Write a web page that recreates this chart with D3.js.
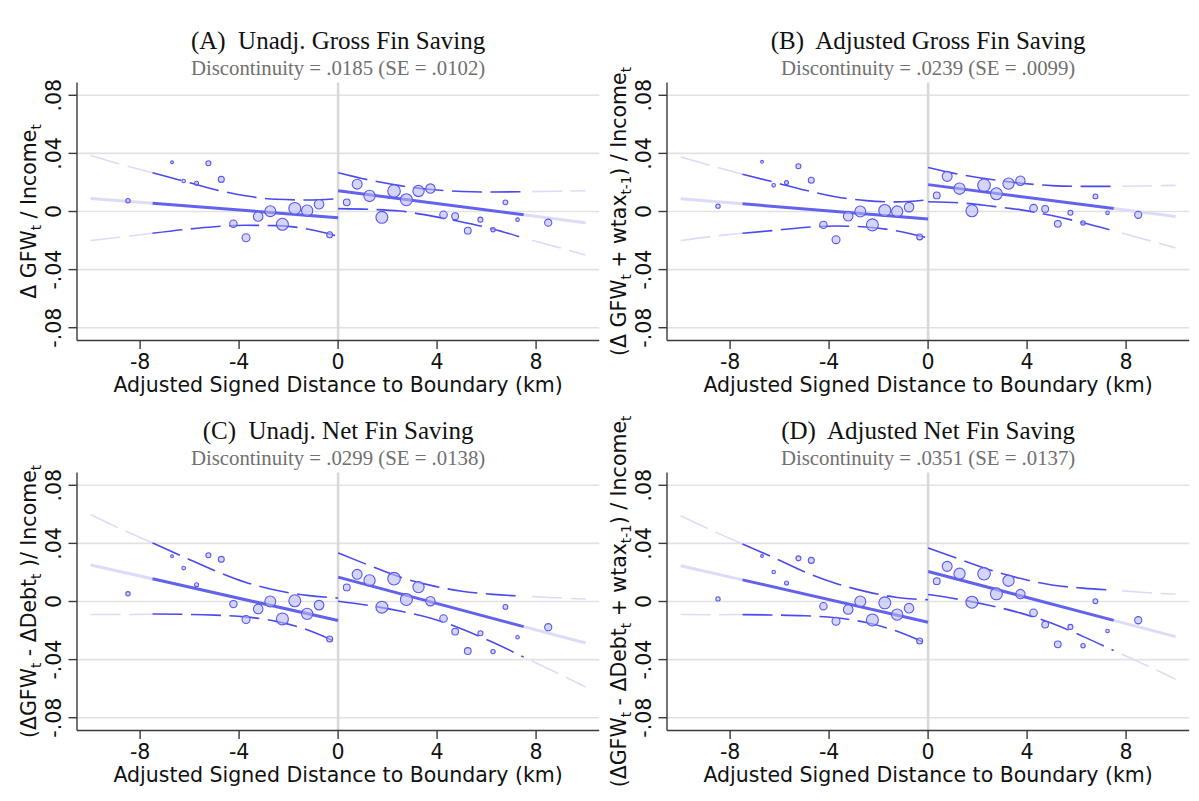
<!DOCTYPE html>
<html>
<head>
<meta charset="utf-8">
<script src="https://cdn.jsdelivr.net/npm/d3@7"></script>
<style>
  body { margin: 0; background: #fff; }
  svg { display: block; }
  text { white-space: pre; }
</style>
</head>
<body>
<svg id="chart" width="1199" height="801"></svg>
<script>
// ---------------- DATA ----------------
const panelTitles = [
  "(A)  Unadj. Gross Fin Saving",
  "(B)  Adjusted Gross Fin Saving",
  "(C)  Unadj. Net Fin Saving",
  "(D)  Adjusted Net Fin Saving"
];
const panelSubtitles = [
  "Discontinuity = .0185 (SE = .0102)",
  "Discontinuity = .0239 (SE = .0099)",
  "Discontinuity = .0299 (SE = .0138)",
  "Discontinuity = .0351 (SE = .0137)"
];
// y-axis titles: [text, isSubscript]
const yTitleA = [["Δ GFW", 0], ["t", 1], [" / Income", 0], ["t", 1]];
const yTitleB = [["(Δ GFW", 0], ["t", 1], [" + wtax", 0], ["t-1", 1], [") / Income", 0], ["t", 1]];
const yTitleC = [["(ΔGFW", 0], ["t", 1], [" - ΔDebt", 0], ["t", 1], [" )/ Income", 0], ["t", 1]];
const yTitleD = [["(ΔGFW", 0], ["t", 1], [" - ΔDebt", 0], ["t", 1], [" + wtax", 0], ["t-1", 1], [") / Income", 0], ["t", 1]];
const xTitle = "Adjusted Signed Distance to Boundary (km)";

const xTicks = [-8, -4, 0, 4, 8];
const xTickLabels = ["-8", "-4", "0", "4", "8"];
const yTicks = [-0.08, -0.04, 0, 0.04, 0.08];
const yTickLabels = ["-.08", "-.04", "0", ".04", ".08"];

// bin positions (km) and relative bin weights
const binXLeft  = [-8.49, -6.71, -6.24, -5.72, -5.24, -4.72, -4.23, -3.72, -3.23, -2.74, -2.25, -1.75, -1.25, -0.77, -0.34];
const binXRight = [0.35, 0.77, 1.27, 1.77, 2.26, 2.76, 3.25, 3.73, 4.26, 4.73, 5.24, 5.75, 6.26, 6.76, 7.25, 8.49];
const binWeightLeft  = [4.8, 2.0, 3.2, 4.0, 6.3, 9, 13.7, 16, 23, 30, 36, 36, 32, 23, 9];
const binWeightRight = [11.6, 25, 32, 36, 40, 36, 32, 22, 14.4, 11.6, 11.6, 6.3, 4.8, 5.8, 3.2, 13];

// bin means
const meanLeftA  = [0.0074, 0.0339, 0.0210, 0.0195, 0.0332, 0.0221, -0.0084, -0.0181, -0.0034, 0.0002, -0.0088, 0.0021, 0.0006, 0.0050, -0.0160];
const meanRightA = [0.0063, 0.0188, 0.0107, -0.0040, 0.0141, 0.0081, 0.0141, 0.0158, -0.0023, -0.0032, -0.0132, -0.0056, -0.0125, 0.0063, -0.0056, -0.0077];
const meanLeftB  = [0.0037, 0.0342, 0.0180, 0.0199, 0.0312, 0.0215, -0.0092, -0.0194, -0.0032, 0.0000, -0.0092, 0.0007, 0.0000, 0.0030, -0.0175];
const meanRightB = [0.0111, 0.0242, 0.0157, 0.0005, 0.0180, 0.0122, 0.0192, 0.0212, 0.0023, 0.0018, -0.0085, -0.0009, -0.0079, 0.0104, -0.0009, -0.0023];
const meanLeftC  = [0.0053, 0.0311, 0.0230, 0.0115, 0.0318, 0.0290, -0.0018, -0.0124, -0.0051, 0.0000, -0.0120, 0.0005, -0.0085, -0.0025, -0.0258];
const meanRightC = [0.0097, 0.0187, 0.0145, -0.0039, 0.0157, 0.0014, 0.0099, 0.0002, -0.0117, -0.0207, -0.0341, -0.0219, -0.0345, -0.0037, -0.0246, -0.0177];
const meanLeftD  = [0.0018, 0.0313, 0.0203, 0.0127, 0.0297, 0.0283, -0.0032, -0.0136, -0.0055, 0.0000, -0.0127, -0.0009, -0.0090, -0.0046, -0.0272];
const meanRightD = [0.0140, 0.0242, 0.0191, -0.0005, 0.0191, 0.0053, 0.0143, 0.0051, -0.0078, -0.0159, -0.0295, -0.0175, -0.0304, 0.0002, -0.0203, -0.0129];

// linear fits (read at x positions)
const fitXLeft  = [-10, -7.5, 0];
const fitXRight = [0, 7.5, 10];
const fitLeftA  = [0.0090, 0.0057, -0.0043];
const fitRightA = [0.0143, -0.0023, -0.0078];
const fitLeftB  = [0.0088, 0.0053, -0.0051];
const fitRightB = [0.0185, 0.0020, -0.0035];
const fitLeftC  = [0.0251, 0.0156, -0.0131];
const fitRightC = [0.0168, -0.0173, -0.0286];
const fitLeftD  = [0.0246, 0.0149, -0.0143];
const fitRightD = [0.0207, -0.0130, -0.0242];

// confidence bands (read at x positions)
const ciXLeft  = [-10, -8.75, -7.5, -6.25, -5, -3.75, -2.5, -1.25, 0];
const ciXRight = [0, 1.25, 2.5, 3.75, 5, 6.25, 7.5, 8.75, 10];
const ciHiLeftA  = [0.0385, 0.0323, 0.0267, 0.0210, 0.0152, 0.0108, 0.0084, 0.0079, 0.0088];
const ciLoLeftA  = [-0.0200, -0.0175, -0.0150, -0.0125, -0.0105, -0.0095, -0.0097, -0.0120, -0.0170];
const ciHiRightA = [0.0267, 0.0217, 0.0178, 0.0151, 0.0138, 0.0134, 0.0136, 0.0139, 0.0143];
const ciLoRightA = [0.0020, 0.0015, 0.0003, -0.0030, -0.0072, -0.0120, -0.0183, -0.0240, -0.0300];
const ciHiLeftB  = [0.0376, 0.0314, 0.0256, 0.0203, 0.0148, 0.0102, 0.0075, 0.0066, 0.0081];
const ciLoLeftB  = [-0.0200, -0.0172, -0.0150, -0.0131, -0.0110, -0.0100, -0.0107, -0.0134, -0.0183];
const ciHiRightB = [0.0303, 0.0256, 0.0222, 0.0195, 0.0178, 0.0173, 0.0173, 0.0176, 0.0180];
const ciLoRightB = [0.0067, 0.0060, 0.0038, 0.0011, -0.0028, -0.0077, -0.0133, -0.0192, -0.0250];
const ciHiLeftC  = [0.0599, 0.0497, 0.0403, 0.0308, 0.0214, 0.0133, 0.0077, 0.0042, 0.0024];
const ciLoLeftC  = [-0.0090, -0.0090, -0.0086, -0.0088, -0.0094, -0.0106, -0.0137, -0.0195, -0.0286];
const ciHiRightC = [0.0334, 0.0249, 0.0168, 0.0111, 0.0071, 0.0049, 0.0037, 0.0026, 0.0017];
const ciLoRightC = [0.0002, -0.0027, -0.0066, -0.0115, -0.0189, -0.0281, -0.0383, -0.0484, -0.0589];
const ciHiLeftD  = [0.0590, 0.0490, 0.0396, 0.0303, 0.0205, 0.0126, 0.0068, 0.0028, 0.0012];
const ciLoLeftD  = [-0.0090, -0.0091, -0.0090, -0.0093, -0.0098, -0.0112, -0.0145, -0.0205, -0.0295];
const ciHiRightD = [0.0369, 0.0292, 0.0217, 0.0158, 0.0114, 0.0092, 0.0078, 0.0062, 0.0050];
const ciLoRightD = [0.0048, 0.0015, -0.0027, -0.0080, -0.0150, -0.0240, -0.0338, -0.0434, -0.0535];

// ---------------- BUILD ----------------
const panels = [
  { title: panelTitles[0], sub: panelSubtitles[0], ytitle: yTitleA, col: 0, row: 0,
    mL: meanLeftA, mR: meanRightA, fL: fitLeftA, fR: fitRightA,
    hL: ciHiLeftA, lL: ciLoLeftA, hR: ciHiRightA, lR: ciLoRightA },
  { title: panelTitles[1], sub: panelSubtitles[1], ytitle: yTitleB, col: 1, row: 0,
    mL: meanLeftB, mR: meanRightB, fL: fitLeftB, fR: fitRightB,
    hL: ciHiLeftB, lL: ciLoLeftB, hR: ciHiRightB, lR: ciLoRightB },
  { title: panelTitles[2], sub: panelSubtitles[2], ytitle: yTitleC, col: 0, row: 1,
    mL: meanLeftC, mR: meanRightC, fL: fitLeftC, fR: fitRightC,
    hL: ciHiLeftC, lL: ciLoLeftC, hR: ciHiRightC, lR: ciLoRightC },
  { title: panelTitles[3], sub: panelSubtitles[3], ytitle: yTitleD, col: 1, row: 1,
    mL: meanLeftD, mR: meanRightD, fL: fitLeftD, fR: fitRightD,
    hL: ciHiLeftD, lL: ciLoLeftD, hR: ciHiRightD, lR: ciLoRightD }
];

const svg = d3.select("#chart");
svg.append("rect").attr("width", 1199).attr("height", 801).attr("fill", "#fff");

const SANS = "'DejaVu Sans', Verdana, sans-serif";
const SERIF = "'Liberation Serif', 'Times New Roman', serif";
const DARK = "#4a4af0";
const FIT = "#6262ec";
const PALE = "#dcdcfa";
const DASH = "30,8.5";

const x = d3.scaleLinear().domain([-10.55, 10.55]).range([77, 599.2]);
const y = d3.scaleLinear().domain([-0.0888, 0.0888]).range([340.5, 82.5]);
const r = d3.scaleSqrt().domain([0, 40]).range([0, 6.3]);

const line = d3.line().x(d => x(d[0])).y(d => y(d[1])).curve(d3.curveMonotoneX);
const zip = (xs, ys, i0, i1) => xs.slice(i0, i1 + 1).map((v, i) => [v, ys[i0 + i]]);

panels.forEach(p => {
  const g = svg.append("g").attr("transform", `translate(${p.col * 590},${p.row * 390})`);
  const [x0, x1] = x.range();
  const [yb, yt] = y.range();

  // gridlines
  g.append("g").selectAll("line").data(yTicks).join("line")
    .attr("x1", x0).attr("x2", x1)
    .attr("y1", d => y(d)).attr("y2", d => y(d))
    .attr("stroke", "#e2e2e2").attr("stroke-width", 1.6);

  // zero vertical line
  g.append("line").attr("x1", x(0)).attr("x2", x(0)).attr("y1", yt).attr("y2", yb)
    .attr("stroke", "#d9d9d9").attr("stroke-width", 2.6);

  // pale extrapolated segments
  const paleDash = (pts, offset) => g.append("path").attr("d", line(pts)).attr("fill", "none")
    .attr("stroke", PALE).attr("stroke-width", 1.6).attr("stroke-dasharray", DASH)
    .attr("stroke-dashoffset", offset);
  paleDash(zip(ciXLeft, p.hL, 0, 2), 0);
  paleDash(zip(ciXLeft, p.lL, 0, 2), 0);
  paleDash(zip(ciXRight, p.hR, 6, 8), 30);
  paleDash(zip(ciXRight, p.lR, 6, 8), 30);
  g.append("path").attr("d", line(zip(fitXLeft, p.fL, 0, 1))).attr("fill", "none")
    .attr("stroke", PALE).attr("stroke-width", 3);
  g.append("path").attr("d", line(zip(fitXRight, p.fR, 1, 2))).attr("fill", "none")
    .attr("stroke", PALE).attr("stroke-width", 3);

  // fitted lines (dark)
  g.append("path").attr("d", line(zip(fitXLeft, p.fL, 1, 2))).attr("fill", "none")
    .attr("stroke", FIT).attr("stroke-width", 3);
  g.append("path").attr("d", line(zip(fitXRight, p.fR, 0, 1))).attr("fill", "none")
    .attr("stroke", FIT).attr("stroke-width", 3);

  // CI dashed (dark)
  [zip(ciXLeft, p.hL, 2, 8), zip(ciXLeft, p.lL, 2, 8), zip(ciXRight, p.hR, 0, 6), zip(ciXRight, p.lR, 0, 6)]
    .forEach(pts => g.append("path").attr("d", line(pts)).attr("fill", "none")
      .attr("stroke", DARK).attr("stroke-width", 1.6).attr("stroke-dasharray", DASH));

  // bin scatter
  const pts = binXLeft.map((v, i) => ({ x: v, y: p.mL[i], w: binWeightLeft[i] }))
    .concat(binXRight.map((v, i) => ({ x: v, y: p.mR[i], w: binWeightRight[i] })));
  g.append("g").selectAll("circle").data(pts).join("circle")
    .attr("cx", d => x(d.x)).attr("cy", d => y(d.y)).attr("r", d => r(d.w))
    .attr("fill", "#b9b9f4").attr("fill-opacity", 0.6)
    .attr("stroke", "#5858f0").attr("stroke-width", 1.1);

  // axes
  const ax = "#3a3a3a";
  g.append("line").attr("x1", x0).attr("x2", x1).attr("y1", yb).attr("y2", yb)
    .attr("stroke", ax).attr("stroke-width", 1.4);
  g.append("line").attr("x1", x0).attr("x2", x0).attr("y1", yt).attr("y2", yb)
    .attr("stroke", ax).attr("stroke-width", 1.4);
  g.append("g").selectAll("line").data(xTicks).join("line")
    .attr("x1", d => x(d)).attr("x2", d => x(d)).attr("y1", yb).attr("y2", yb + 8.5)
    .attr("stroke", ax).attr("stroke-width", 1.4);
  g.append("g").selectAll("line").data(yTicks).join("line")
    .attr("x1", x0 - 8.5).attr("x2", x0).attr("y1", d => y(d)).attr("y2", d => y(d))
    .attr("stroke", ax).attr("stroke-width", 1.4);

  // tick labels
  g.append("g").selectAll("text").data(xTicks).join("text")
    .attr("x", d => x(d)).attr("y", yb + 28.5).attr("text-anchor", "middle")
    .attr("font-family", SANS).attr("font-size", 20.5).attr("fill", "#111")
    .text((d, i) => xTickLabels[i]);
  g.append("g").selectAll("text").data(yTicks).join("text")
    .attr("x", 61).attr("y", d => y(d)).attr("text-anchor", "middle")
    .attr("transform", d => `rotate(-90,61,${y(d)})`)
    .attr("font-family", SANS).attr("font-size", 20.5).attr("fill", "#111")
    .text((d, i) => yTickLabels[i]);

  // axis titles
  g.append("text").attr("x", (x0 + x1) / 2).attr("y", 392).attr("text-anchor", "middle")
    .attr("font-family", SANS).attr("font-size", 20.5).attr("fill", "#111").text(xTitle);
  const yc = y(0);
  const yt_ = g.append("text").attr("x", 36).attr("y", yc).attr("text-anchor", "middle")
    .attr("transform", `rotate(-90,36,${yc})`)
    .attr("font-family", SANS).attr("font-size", 20.5).attr("fill", "#111");
  let down = false;
  p.ytitle.forEach(([t, sub]) => {
    const ts = yt_.append("tspan").text(t);
    if (sub) { ts.attr("font-size", 13.5).attr("dy", down ? 0 : 5); down = true; }
    else { if (down) ts.attr("dy", -5); down = false; }
  });

  // titles
  g.append("text").attr("x", (x0 + x1) / 2).attr("y", 48.5).attr("text-anchor", "middle")
    .attr("font-family", SERIF).attr("font-size", 25).attr("fill", "#111")
    .attr("xml:space", "preserve").text(p.title);
  g.append("text").attr("x", (x0 + x1) / 2).attr("y", 74.5).attr("text-anchor", "middle")
    .attr("font-family", SERIF).attr("font-size", 20.8).attr("fill", "#707070").text(p.sub);
});
</script>
</body>
</html>
